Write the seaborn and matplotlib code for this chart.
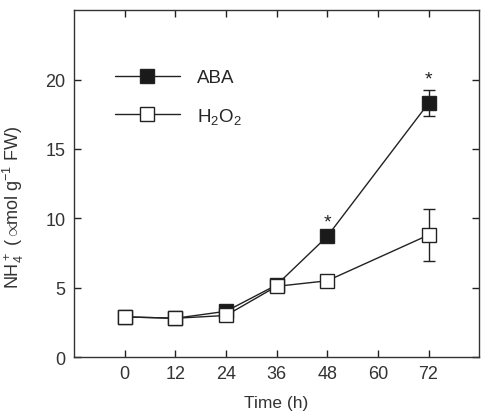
import seaborn as sns
import matplotlib.pyplot as plt
import pandas as pd

time_h = [0, 12, 24, 36, 48, 72]
aba = [2.9, 2.8, 3.3, 5.2, 8.7, 18.3]
aba_err = [0, 0, 0, 0, 0, 0.95]
h2o2 = [2.9, 2.8, 3.0, 5.1, 5.5, 8.8]
h2o2_err = [0, 0, 0, 0, 0, 1.85]
star_x = [48, 72]
star_y = [9.1, 19.4]

sns.set_style('ticks')
plt.rcParams['font.family'] = ['Liberation Sans', 'DejaVu Sans']
plt.rcParams['mathtext.fontset'] = 'custom'
plt.rcParams['mathtext.rm'] = 'Liberation Sans'
plt.rcParams['mathtext.it'] = 'Liberation Sans'

df = pd.DataFrame({'time': time_h * 2,
                   'value': aba + h2o2,
                   'group': ['ABA'] * 6 + ['H$_2$O$_2$'] * 6})

fig, ax = plt.subplots(figsize=(4.87, 4.14), dpi=100)

ax.errorbar(time_h, aba, yerr=aba_err, fmt='none', ecolor='#222222',
            elinewidth=1, capsize=4, zorder=2)
ax.errorbar(time_h, h2o2, yerr=h2o2_err, fmt='none', ecolor='#222222',
            elinewidth=1, capsize=4, zorder=2)

sns.lineplot(data=df[df.group == 'ABA'], x='time', y='value', ax=ax,
             color='#222222', lw=1, marker='s', markersize=10,
             markerfacecolor='#1a1a1a', markeredgecolor='#222222',
             markeredgewidth=1, label='ABA', zorder=3)
sns.lineplot(data=df[df.group != 'ABA'], x='time', y='value', ax=ax,
             color='#222222', lw=1, marker='s', markersize=10,
             markerfacecolor='white', markeredgecolor='#222222',
             markeredgewidth=1, label='H$_2$O$_2$', zorder=4)

for x, y in zip(star_x, star_y):
    ax.text(x, y, '*', ha='center', va='bottom', fontsize=14, color='#222222')

ax.set_xlim(-12, 84)
ax.set_ylim(0, 25)
ax.set_xticks([0, 12, 24, 36, 48, 60, 72])
ax.set_yticks([0, 5, 10, 15, 20])
ax.tick_params(direction='in', top=True, right=True, labelsize=13,
               length=5, width=1, colors='#222222', labelcolor='#333333',
               pad=6)
for s in ax.spines.values():
    s.set_linewidth(1)
    s.set_color('#333333')

ax.set_xlabel('Time (h)', fontsize=12.5, color='#333333')
ax.xaxis.set_label_coords(0.5, -0.11)
ax.set_ylabel('NH$_4^+$ (${\\propto}\\!\\!$mol g$^{-1}$ FW)', fontsize=13,
              color='#333333')
ax.yaxis.set_label_coords(-0.118, 0.435)

ax.legend(loc='upper left', bbox_to_anchor=(0.1, 0.83), frameon=False,
          handlelength=3.5, numpoints=1, fontsize=13.5, labelspacing=1.05,
          handletextpad=0.9, borderpad=0, borderaxespad=0)

fig.subplots_adjust(left=0.152, right=0.984, top=0.973, bottom=0.135)
fig.savefig('out.png', dpi=100)
